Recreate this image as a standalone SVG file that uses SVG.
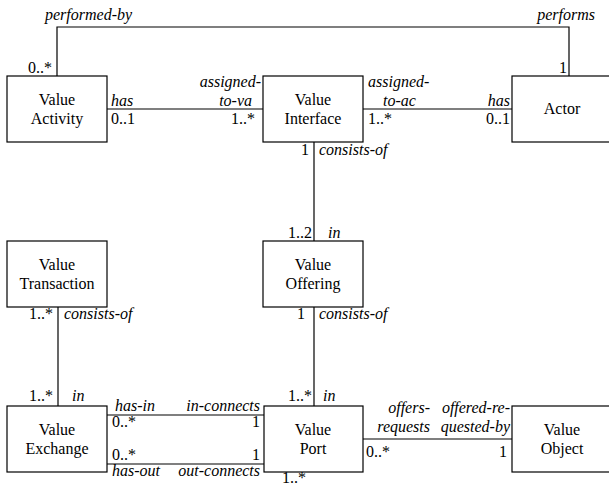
<svg xmlns="http://www.w3.org/2000/svg" width="609" height="489" viewBox="0 0 609 489">
<style>
.box{fill:#fff;stroke:#000;stroke-width:1.2}
.ln{fill:none;stroke:#000;stroke-width:1.2}
text{font-family:'Liberation Serif','Times New Roman','DejaVu Serif',serif;font-size:16px;fill:#000}
.n{text-anchor:middle}
.i{font-style:italic}
.e{text-anchor:end}
</style>
<rect width="609" height="489" fill="#fff"/>
<g id="connectors">
<polyline class="ln" points="57,76 57,27 569,27 569,76"/>
<line class="ln" x1="107" y1="109" x2="263" y2="109"/>
<line class="ln" x1="363" y1="109" x2="512" y2="109"/>
<line class="ln" x1="314" y1="142" x2="314" y2="241"/>
<line class="ln" x1="58" y1="307" x2="58" y2="406"/>
<line class="ln" x1="314" y1="307" x2="314" y2="406"/>
<line class="ln" x1="107" y1="415" x2="264" y2="415"/>
<line class="ln" x1="107" y1="464" x2="264" y2="464"/>
<line class="ln" x1="363" y1="439" x2="512" y2="439"/>
<text class="i" x="45" y="20">performed-by</text>
<text class="i e" x="595" y="20">performs</text>
<text class="e" x="52" y="73">0..*</text>
<text class="e" x="567" y="73">1</text>
<text class="i" x="111" y="106">has</text>
<text x="111" y="124">0..1</text>
<text class="i e" x="261" y="87">assigned-</text>
<text class="i e" x="252" y="106">to-va</text>
<text class="e" x="255" y="124">1..*</text>
<text class="i" x="368" y="87">assigned-</text>
<text class="i" x="383" y="106">to-ac</text>
<text x="368" y="124">1..*</text>
<text class="i e" x="510" y="106">has</text>
<text class="e" x="510" y="124">0..1</text>
<text class="e" x="309" y="155">1</text>
<text class="i" x="319" y="155">consists-of</text>
<text class="e" x="312" y="238">1..2</text>
<text class="i" x="328" y="238">in</text>
<text class="e" x="53" y="319">1..*</text>
<text class="i" x="64" y="319">consists-of</text>
<text class="e" x="305" y="319">1</text>
<text class="i" x="319" y="319">consists-of</text>
<text class="e" x="53" y="401">1..*</text>
<text class="i" x="72" y="401">in</text>
<text class="e" x="312" y="401">1..*</text>
<text class="i" x="323" y="401">in</text>
<text class="i" x="115" y="411">has-in</text>
<text class="i e" x="260" y="411">in-connects</text>
<text x="112" y="427">0..*</text>
<text class="e" x="260" y="427">1</text>
<text x="112" y="460">0..*</text>
<text class="e" x="260" y="460">1</text>
<text class="i" x="112" y="476">has-out</text>
<text class="i e" x="260" y="476">out-connects</text>
<text class="i e" x="430" y="413">offers-</text>
<text class="i e" x="430" y="432">requests</text>
<text class="i e" x="510" y="413">offered-re-</text>
<text class="i e" x="510" y="432">quested-by</text>
<text x="366" y="457">0..*</text>
<text class="e" x="507" y="457">1</text>
<text x="282" y="483">1..*</text>
</g>
<g id="value-activity">
<rect class="box" x="7" y="76" width="100" height="66"/>
<text class="n" x="57" y="105">Value</text>
<text class="n" x="57" y="124">Activity</text>
</g>
<g id="value-interface">
<rect class="box" x="263" y="76" width="100" height="66"/>
<text class="n" x="313" y="105">Value</text>
<text class="n" x="313" y="124">Interface</text>
</g>
<g id="actor">
<rect class="box" x="512" y="76" width="100" height="66"/>
<text class="n" x="562" y="114">Actor</text>
</g>
<g id="value-transaction">
<rect class="box" x="7" y="241" width="100" height="66"/>
<text class="n" x="57" y="270">Value</text>
<text class="n" x="57" y="289">Transaction</text>
</g>
<g id="value-offering">
<rect class="box" x="263" y="241" width="100" height="66"/>
<text class="n" x="313" y="270">Value</text>
<text class="n" x="313" y="289">Offering</text>
</g>
<g id="value-exchange">
<rect class="box" x="7" y="406" width="100" height="66"/>
<text class="n" x="57" y="435">Value</text>
<text class="n" x="57" y="454">Exchange</text>
</g>
<g id="value-port">
<rect class="box" x="264" y="406" width="99" height="66"/>
<text class="n" x="313" y="435">Value</text>
<text class="n" x="313" y="454">Port</text>
</g>
<g id="value-object">
<rect class="box" x="512" y="406" width="100" height="66"/>
<text class="n" x="562" y="435">Value</text>
<text class="n" x="562" y="454">Object</text>
</g>
</svg>
